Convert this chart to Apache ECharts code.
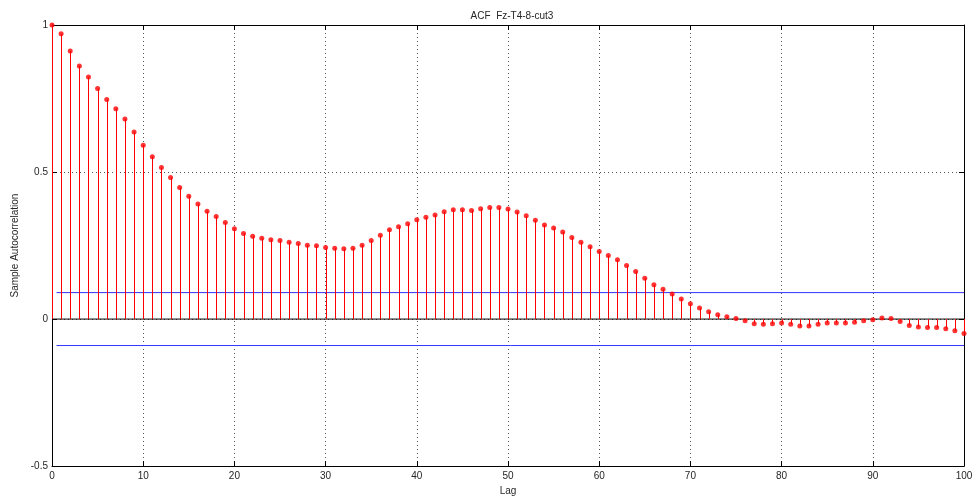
<!DOCTYPE html>
<html>
<head>
<meta charset="utf-8">
<script src="https://cdn.jsdelivr.net/npm/echarts@6/dist/echarts.min.js"></script>
<style>
  html, body { margin: 0; padding: 0; background: #fff; overflow: hidden; }
  #chart { width: 976px; height: 501px; }
</style>
</head>
<body>
<div id="chart"></div>
<script>
// Sample autocorrelation, lags 0..100
const lags = Array.from({ length: 101 }, (_, i) => i);
const acf = [
  1.000, 0.970, 0.912, 0.861, 0.823, 0.784, 0.747, 0.715, 0.680, 0.636,
  0.591, 0.552, 0.515, 0.481, 0.447, 0.418, 0.391, 0.367, 0.349, 0.328,
  0.307, 0.291, 0.282, 0.275, 0.270, 0.267, 0.261, 0.257, 0.251, 0.249,
  0.243, 0.241, 0.239, 0.241, 0.251, 0.267, 0.285, 0.304, 0.314, 0.324,
  0.338, 0.346, 0.354, 0.365, 0.372, 0.372, 0.369, 0.375, 0.379, 0.379,
  0.374, 0.364, 0.351, 0.336, 0.320, 0.310, 0.296, 0.277, 0.261, 0.246,
  0.230, 0.216, 0.202, 0.182, 0.162, 0.139, 0.117, 0.101, 0.085, 0.068,
  0.052, 0.038, 0.025, 0.015, 0.008, 0.002, -0.006, -0.016, -0.018, -0.016,
  -0.013, -0.018, -0.024, -0.024, -0.018, -0.013, -0.013, -0.013, -0.011, -0.006,
  -0.002, 0.004, 0.002, -0.008, -0.022, -0.027, -0.029, -0.029, -0.033, -0.040,
  -0.049
];
// Approximate 95% confidence bounds and the lag span they cover
const bound = 0.09;
const boundLags = [0.5, 100];
const xTicks = [0, 100, 10];
const yTicks = [-0.5, 1, 0.5];

const font = '"Liberation Sans Narrow", "Liberation Sans", Arial, sans-serif';
const textColor = '#262626';

const points = lags.map((l, i) => [l, acf[i]]);

const chart = echarts.init(document.getElementById('chart'), null, { renderer: 'canvas', width: 976, height: 501 });

const tickStyle = { show: true, inside: true, length: 5, lineStyle: { color: '#000', width: 1 } };

chart.setOption({
  animation: false,
  backgroundColor: '#fff',
  title: {
    text: 'ACF  Fz-T4-8-cut3',
    left: 507, top: 6, textAlign: 'center',
    textStyle: { fontFamily: font, fontSize: 10, fontWeight: 'normal', color: textColor }
  },
  grid: { left: 52, right: 12, top: 25, bottom: 32 },
  xAxis: [{
    type: 'value', min: xTicks[0], max: xTicks[1], interval: xTicks[2],
    name: 'Lag', nameLocation: 'middle', nameGap: 17,
    nameTextStyle: { fontFamily: font, fontSize: 10, color: textColor },
    axisLine: { show: true, onZero: false, lineStyle: { color: '#000', width: 1 } },
    axisTick: tickStyle,
    axisLabel: { fontFamily: font, fontSize: 10, color: textColor, margin: 5 },
    splitLine: { show: true, lineStyle: { type: [1, 3], color: '#555', width: 1 } }
  }, {
    type: 'value', position: 'top', min: xTicks[0], max: xTicks[1], interval: xTicks[2],
    axisLine: { show: true, onZero: false, lineStyle: { color: '#000', width: 1 } },
    axisTick: tickStyle, axisLabel: { show: false }, splitLine: { show: false }
  }],
  yAxis: [{
    type: 'value', min: yTicks[0], max: yTicks[1], interval: yTicks[2],
    name: 'Sample Autocorrelation', nameLocation: 'middle', nameGap: 32, nameRotate: 90,
    nameTextStyle: { fontFamily: font, fontSize: 10, color: textColor },
    axisLine: { show: true, onZero: false, lineStyle: { color: '#000', width: 1 } },
    axisTick: tickStyle,
    axisLabel: { fontFamily: font, fontSize: 10, color: textColor, margin: 4 },
    splitLine: { show: true, lineStyle: { type: [1, 3], color: '#555', width: 1 } }
  }, {
    type: 'value', position: 'right', min: yTicks[0], max: yTicks[1], interval: yTicks[2],
    axisLine: { show: true, onZero: false, lineStyle: { color: '#000', width: 1 } },
    axisTick: tickStyle, axisLabel: { show: false }, splitLine: { show: false }
  }],
  series: [
    {
      // stem baseline
      type: 'line', data: [[xTicks[0], 0], [xTicks[1], 0]],
      symbol: 'none', silent: true, z: 3,
      lineStyle: { color: '#000', width: 1 }
    },
    {
      // upper confidence bound
      type: 'line', data: [[boundLags[0], bound], [boundLags[1], bound]],
      symbol: 'none', silent: true, z: 2,
      lineStyle: { color: '#3333ff', width: 1 }
    },
    {
      // lower confidence bound
      type: 'line', data: [[boundLags[0], -bound], [boundLags[1], -bound]],
      symbol: 'none', silent: true, z: 2,
      lineStyle: { color: '#3333ff', width: 1 }
    },
    {
      // stems
      type: 'custom', data: points, z: 4,
      renderItem: function (params, api) {
        const x = api.value(0), y = api.value(1);
        const p0 = api.coord([x, 0]);
        const p1 = api.coord([x, y]);
        return {
          type: 'line',
          shape: { x1: Math.round(p0[0]) + 0.5, y1: p0[1], x2: Math.round(p1[0]) + 0.5, y2: p1[1] },
          style: { stroke: '#ff0000', lineWidth: 1 }
        };
      }
    },
    {
      // stem heads
      type: 'scatter', data: points, z: 5,
      symbol: 'circle', symbolSize: 5,
      itemStyle: { color: '#ff0000' }
    }
  ]
});
</script>
</body>
</html>
